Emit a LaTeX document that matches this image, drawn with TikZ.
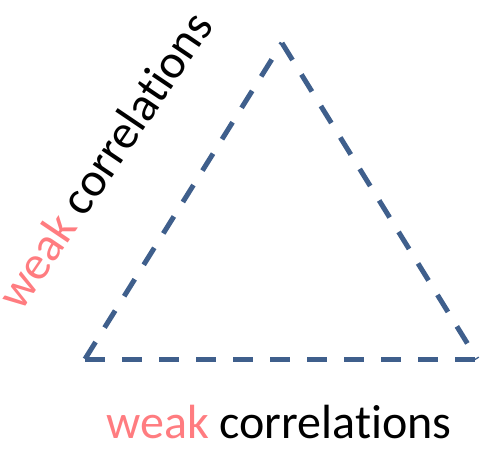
\documentclass[tikz,border=0pt]{standalone}
\usepackage{fontspec}
\setmainfont{Carlito}[Ligatures={NoCommon,NoDiscretionary,NoContextual}]
\definecolor{edgeblue}{RGB}{63,95,140}
\definecolor{weakpink}{RGB}{255,124,128}
\tikzset{
  edge/.style={draw=edgeblue, line width=5pt, dash pattern=on 20pt off 17pt},
  lbl/.style={font=\fontsize{48}{56}\selectfont, inner sep=0pt, anchor=base}
}
\begin{document}
\begin{tikzpicture}[x=1pt,y=-1pt]
\useasboundingbox (0,0) rectangle (480,448);
\coordinate (top) at (282,43);
\coordinate (bl) at (85,359);
\coordinate (br) at (477,359);
\draw[edge] (bl) -- (top);
\draw[edge] (top) -- (br);
\draw[edge] (bl) -- (br);
\node[lbl] (bottomlabel) at (279,438) {\textcolor{weakpink}{weak} correlations};
\node[lbl, rotate=56] (sidelabel) at (118,169) {\textcolor{weakpink}{weak} correlations};
\end{tikzpicture}
\end{document}
